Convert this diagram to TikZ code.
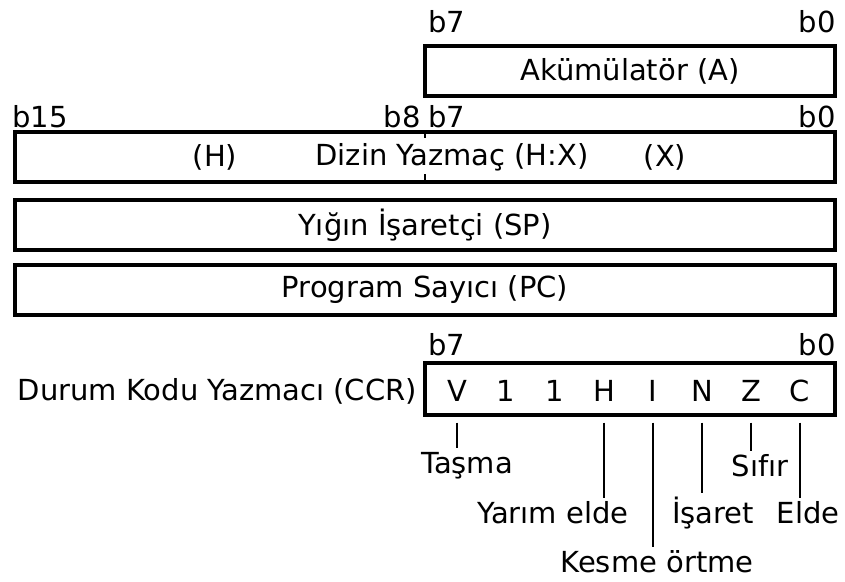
\documentclass[tikz,border=0pt]{standalone}
\usepackage{fontspec}
\setmainfont{DejaVu Sans}
\usepackage{tikz}
\usetikzlibrary{calc}
\tikzstyle{reg} = [draw,line width=3.4pt,minimum height=50pt,inner sep=0pt,
	font=\fontsize{29}{31}\selectfont]
\tikzstyle{bitlbl} = [inner sep=0pt,font=\fontsize{29}{31}\selectfont]
\tikzstyle{flag} = [inner sep=0pt,font=\fontsize{29}{31}\selectfont]
\tikzstyle{lead} = [line width=2.2pt]

\begin{document}
\begin{tikzpicture}[x=1pt,y=-1pt,font=\fontsize{29}{31}\selectfont]
   \useasboundingbox (0,0) rectangle (845,581);
   % 8 bit accumulator
   \node[reg,minimum width=410pt] (acc) at (630,71) {Akümülatör (A)};
   \node[bitlbl,anchor=west] (accb7) at (428,22) {b7};
   \node[bitlbl,anchor=east] (accb0) at (836,22) {b0};
   % 16 bit registers
   \node[reg,minimum width=820pt] (hx) at (425,157) {};
   \node[bitlbl] (hxh) at (215,157) {(H)};
   \node[bitlbl] (hxname) at (452,157) {Dizin Yazmaç (H:X)};
   \node[bitlbl] (hxx) at (665,157) {(X)};
   \draw[line width=2.4pt] ($(hx.north west)!0.5!(hx.north east)$) -- ++(0,8);
   \draw[line width=2.4pt] ($(hx.south west)!0.5!(hx.south east)$) -- ++(0,-10);
   \node[bitlbl,anchor=west] (hxb15) at (12,117) {b15};
   \node[bitlbl,anchor=east] (hxb8) at (421,117) {b8};
   \node[bitlbl,anchor=west] (hxb7) at (428,117) {b7};
   \node[bitlbl,anchor=east] (hxb0) at (836,117) {b0};
   \node[reg,minimum width=820pt] (sp) at (425,225) {Yığın İşaretçi (SP)};
   \node[reg,minimum width=820pt] (pc) at (425,290) {Program Sayıcı (PC)};
   % condition code register
   \node[reg,minimum width=410pt,minimum height=52pt] (ccr) at (630,389) {};
   \node[bitlbl,anchor=west] (ccrb7) at (428,345) {b7};
   \node[bitlbl,anchor=east] (ccrb0) at (836,345) {b0};
   \node[bitlbl,anchor=east] (ccrname) at (417,391) {Durum Kodu Yazmacı (CCR)};
   \foreach \f [count=\i] in {V,1,1,H,I,N,Z,C}
      \node[flag] (f\i) at ({457+49*(\i-1)},391) {\f};
   % flag names
   \node[bitlbl,inner sep=4pt] (tasma) at (467,466) {Taşma};
   \node[bitlbl,inner sep=4pt] (yarim) at (553,513) {Yarım elde};
   \node[bitlbl,inner sep=4pt] (kesme) at (657,562) {Kesme örtme};
   \node[bitlbl,inner sep=4pt] (isaret) at (713,513) {İşaret};
   \node[bitlbl,inner sep=4pt] (sifir) at (760,466) {Sıfır};
   \node[bitlbl,inner sep=4pt] (elde) at (808,513) {Elde};
   \draw[lead] ([yshift=-6pt]f1 |- ccr.south) -- (f1 |- tasma.north);
   \draw[lead] ([yshift=-6pt]f4 |- ccr.south) -- (f4 |- yarim.north);
   \draw[lead] ([yshift=-6pt]f5 |- ccr.south) -- (f5 |- kesme.north);
   \draw[lead] ([yshift=-6pt]f6 |- ccr.south) -- (f6 |- isaret.north);
   \draw[lead] ([yshift=-6pt]f7 |- ccr.south) -- (f7 |- sifir.north);
   \draw[lead] ([yshift=-6pt]f8 |- ccr.south) -- (f8 |- elde.north);
\end{tikzpicture}
\end{document}
